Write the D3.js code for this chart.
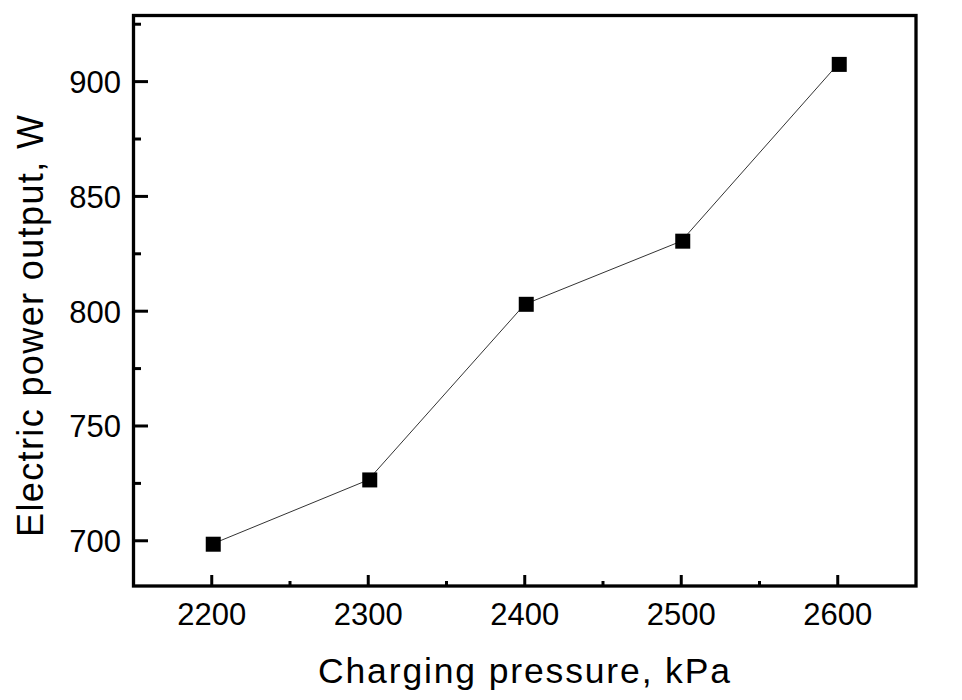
<!DOCTYPE html>
<html>
<head>
<meta charset="utf-8">
<script src="https://cdn.jsdelivr.net/npm/d3@7/dist/d3.min.js"></script>
<style>
  html, body { margin: 0; padding: 0; background: #fff; }
  svg { display: block; font-family: Arial, "Liberation Sans", sans-serif; }
</style>
</head>
<body>
<svg id="chart" width="962" height="700"></svg>
<script>
const pressure = [2200, 2300, 2400, 2500, 2600];
const power = [698.5, 726.5, 803, 830.5, 907.5];
const xTicks = [2200, 2300, 2400, 2500, 2600];
const xMinor = [2250, 2350, 2450, 2550];
const yTicks = [700, 750, 800, 850, 900];
const yMinor = [725, 775, 825, 875, 925];
const xTitle = "Charging pressure, kPa";
const yTitle = "Electric power output, W";

const svg = d3.select("#chart");
const L = 133.5, R = 916, T = 15.5, B = 586;
const x = d3.scaleLinear().domain([2150, 2650]).range([L, R]);
const y = d3.scaleLinear().domain([680.3, 928.8]).range([B, T]);

// ticks (inside)
const g = svg.append("g");
g.selectAll(".ymaj").data(yTicks).join("line")
  .attr("x1", L).attr("x2", L + 14.5)
  .attr("y1", d => y(d)).attr("y2", d => y(d))
  .attr("stroke", "#000").attr("stroke-width", 3);
g.selectAll(".ymin").data(yMinor).join("line")
  .attr("x1", L).attr("x2", L + 7.5)
  .attr("y1", d => y(d)).attr("y2", d => y(d))
  .attr("stroke", "#000").attr("stroke-width", 3);
g.selectAll(".xmaj").data(xTicks).join("line")
  .attr("x1", d => x(d)).attr("x2", d => x(d))
  .attr("y1", B).attr("y2", B - 11)
  .attr("stroke", "#000").attr("stroke-width", 3);
g.selectAll(".xmin").data(xMinor).join("line")
  .attr("x1", d => x(d)).attr("x2", d => x(d))
  .attr("y1", B).attr("y2", B - 5)
  .attr("stroke", "#000").attr("stroke-width", 3);

// frame
svg.append("rect").attr("x", L).attr("y", T).attr("width", R - L).attr("height", B - T)
  .attr("fill", "none").attr("stroke", "#000").attr("stroke-width", 3.3);

// tick labels
svg.selectAll(".yl").data(yTicks).join("text")
  .attr("x", 121).attr("y", d => y(d) + 11.5)
  .attr("text-anchor", "end").attr("font-size", 31).attr("fill", "#000")
  .text(d => d);
svg.selectAll(".xl").data(xTicks).join("text")
  .attr("x", d => x(d)).attr("y", 625)
  .attr("text-anchor", "middle").attr("font-size", 31).attr("fill", "#000")
  .text(d => d);

// titles
svg.append("text").attr("x", 524).attr("y", 683)
  .attr("text-anchor", "middle").attr("font-size", 35.5).attr("fill", "#000")
  .attr("textLength", 412).attr("lengthAdjust", "spacing")
  .text(xTitle);
svg.append("text").attr("transform", "translate(43,326) rotate(-90)")
  .attr("text-anchor", "middle").attr("font-size", 36).attr("fill", "#000")
  .attr("textLength", 422).attr("lengthAdjust", "spacing")
  .text(yTitle);

// data line
const line = d3.line().x((d, i) => x(pressure[i])).y(d => y(d));
svg.append("path").datum(power).attr("d", line)
  .attr("fill", "none").attr("stroke", "#333").attr("stroke-width", 1);

// markers
const s = 15;
svg.selectAll(".pt").data(power).join("rect")
  .attr("x", (d, i) => x(pressure[i]) - s / 2 + 1.5)
  .attr("y", d => y(d) - s / 2)
  .attr("width", s).attr("height", s)
  .attr("fill", "#000");
</script>
</body>
</html>
